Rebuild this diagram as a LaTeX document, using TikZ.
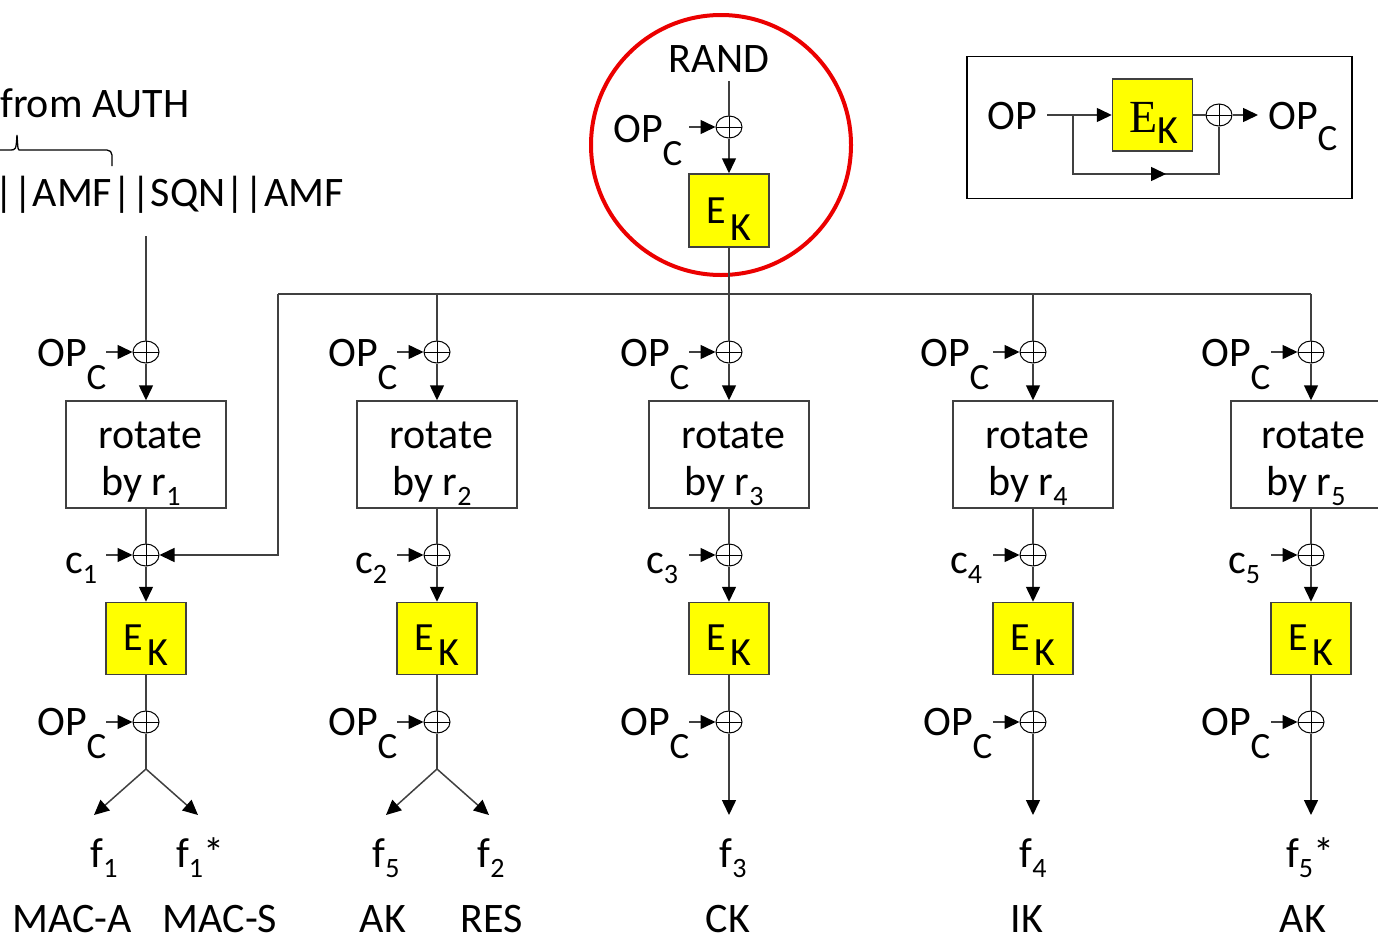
\documentclass[tikz,border=0pt]{standalone}
\usepackage{fontspec}
\setmainfont{Carlito}
\newfontfamily\serifE{Liberation Serif}
\usetikzlibrary{arrows.meta,positioning,shapes.geometric}
\definecolor{wiregray}{RGB}{64,64,64}
\definecolor{ekyellow}{RGB}{255,255,0}
\definecolor{focusred}{RGB}{235,0,0}
\newcommand{\opc}{OP\raisebox{-23pt}{\fontsize{37}{40}\selectfont C}}
\newcommand{\dsub}[1]{\raisebox{-10pt}{\fontsize{28}{30}\selectfont #1}}
\newcommand{\ek}{E\hspace{4pt}\raisebox{-15pt}{K}}

\begin{document}
\begin{tikzpicture}[x=1pt, y=-1pt,
    wire/.style={draw=wiregray, line width=1.5pt},
    arr/.style={wire, -{Triangle[length=15pt,width=14pt,color=black]}},
    xor/.style={ellipse, draw=black, line width=1pt,
                minimum width=26pt, minimum height=22pt, inner sep=0pt,
                path picture={\draw[line width=1pt]
                  (path picture bounding box.west) -- (path picture bounding box.east)
                  (path picture bounding box.north) -- (path picture bounding box.south);}},
    rotbox/.style={draw=wiregray, line width=1.5pt,
                   minimum width=160pt, minimum height=107pt, inner sep=0pt},
    ekbox/.style={draw=wiregray, fill=ekyellow, line width=1.5pt,
                  minimum width=80pt, minimum height=72pt, inner sep=0pt},
    lbl/.style={font=\fontsize{42}{47}\selectfont, inner sep=0pt},
    eklbl/.style={font=\fontsize{40}{44}\selectfont, inner sep=0pt}
  ]
    \useasboundingbox (0,0) rectangle (1378,937);
    \clip (0,0) rectangle (1378,937);

    % Input string from AUTH
    \node[lbl, anchor=base west] (auth) at (0,117) {from AUTH};
    \draw[black, line width=1.3pt]
      (112,166) [rounded corners=5pt] -- (112,150) -- (24,150) [sharp corners]
      .. controls (18,150) .. (17,135) .. controls (16,150) .. (10,150) -- (-20,150);
    \node[lbl, anchor=base east] (inp) at (344,206) {||AMF||SQN||AMF};
    \coordinate (inpout) at (146,236);

    % Top: RAND through E_K (highlighted)
    \node[circle, draw=focusred, line width=4pt, minimum size=260pt] (focus) at (721,145) {};
    \node[lbl, anchor=base] (rand) at (719,72) {RAND};
    \coordinate (randout) at (729,81);
    \node[xor] (x0) at (729,127) {};
    \node[lbl, anchor=base west] (op0) at (613,142) {\opc};
    \coordinate (in0) at (689,127);
    \node[ekbox, minimum height=73pt] (ek0) at (729,210.5) {};
    \node[inner sep=0pt, anchor=base, font=\fontsize{40}{44}\selectfont]
      at (729,223) {E\hspace{4pt}\raisebox{-17pt}{K}};
    \draw[wire] (randout) -- (x0);
    \draw[arr] (in0) -- (x0);
    \draw[arr] (x0) -- (ek0);

    % Legend: OP_C from OP
    \node[draw=black, line width=1.5pt, minimum width=385pt, minimum height=142pt] (legend) at (1159.5,127.5) {};
    \node[lbl, anchor=base west] (opI) at (987,129) {OP};
    \coordinate (opIout) at (1047,115);
    \coordinate (brI) at (1073,115);
    \node[ekbox] (ekI) at (1152.5,115) {};
    \node[inner sep=0pt, anchor=base west] at (1129,132)
      {\fontsize{46}{50}\selectfont\serifE E\raisebox{-11pt}{\fontsize{40}{42}\selectfont\rmfamily K}};
    \node[xor] (xI) at (1219,115) {};
    \coordinate (opIend) at (1258,115);
    \node[lbl, anchor=base west] (opcI) at (1268,129) {OP\raisebox{-21pt}{\fontsize{37}{40}\selectfont C}};
    \coordinate (loopI) at (1073,174);
    \coordinate (midIa) at (1140,174);
    \coordinate (midIb) at (1166,174);
    \draw[arr] (opIout) -- (ekI);
    \draw[wire] (ekI) -- (xI);
    \draw[arr] (xI) -- (opIend);
    \draw[wire] (brI) -- (loopI) -| (xI);
    \draw[arr] (midIa) -- (midIb);

    % Bus to the five columns
    \coordinate (busL) at (278,294);
    \coordinate (bus2) at (437,294);
    \coordinate (bus4) at (1033,294);
    \coordinate (busR) at (1311,294);
    \draw[wire] (busL) -- (busR);

    % Column 1: f1 and f1*
    \node[xor] (x1a) at (146,352) {};
    \node[lbl, anchor=base west] (op1a) at (37,366) {\opc};
    \coordinate (in1a) at (106,352);
    \node[rotbox] (rot1) at (146,454.5) {};
    \node[lbl, anchor=base] at (150,448) {rotate};
    \node[lbl, anchor=base] at (141,495) {by r\dsub{1}};
    \node[xor] (x1b) at (146,555) {};
    \node[lbl, anchor=base west] (c1) at (65,573) {c\dsub{1}};
    \coordinate (in1b) at (106,555);
    \node[ekbox] (ek1) at (146,638.5) {};
    \node[eklbl, anchor=base] at (146,650) {\ek};
    \node[xor] (x1c) at (146,722) {};
    \node[lbl, anchor=base west] (op1c) at (37,735) {\opc};
    \coordinate (in1c) at (106,722);
    \coordinate (sp1) at (146,769);
    \coordinate (o1a) at (94,815);
    \coordinate (o1b) at (198,815);
    \draw[wire] (inpout) -- (x1a);
    \draw[arr] (in1a) -- (x1a);
    \draw[arr] (x1a) -- (rot1);
    \draw[wire] (rot1) -- (x1b);
    \draw[arr] (in1b) -- (x1b);
    \draw[arr] (busL) |- (x1b);
    \draw[arr] (x1b) -- (ek1);
    \draw[wire] (ek1) -- (x1c);
    \draw[arr] (in1c) -- (x1c);
    \draw[wire] (x1c) -- (sp1);
    \draw[arr] (sp1) -- (o1a);
    \draw[arr] (sp1) -- (o1b);
    \node[lbl, anchor=base] at (104,867) {f\dsub{1}};
    \node[lbl, anchor=base] at (200,867) {f\dsub{1}*};
    \node[lbl, anchor=base] at (72,932) {MAC-A};
    \node[lbl, anchor=base] at (220,932) {MAC-S};

    % Column 2: f5 and f2
    \node[xor] (x2a) at (437,352) {};
    \node[lbl, anchor=base west] (op2a) at (328,366) {\opc};
    \coordinate (in2a) at (397,352);
    \node[rotbox] (rot2) at (437,454.5) {};
    \node[lbl, anchor=base] at (441,448) {rotate};
    \node[lbl, anchor=base] at (432,495) {by r\dsub{2}};
    \node[xor] (x2b) at (437,555) {};
    \node[lbl, anchor=base west] (c2) at (355,573) {c\dsub{2}};
    \coordinate (in2b) at (397,555);
    \node[ekbox] (ek2) at (437,638.5) {};
    \node[eklbl, anchor=base] at (437,650) {\ek};
    \node[xor] (x2c) at (437,722) {};
    \node[lbl, anchor=base west] (op2c) at (328,735) {\opc};
    \coordinate (in2c) at (397,722);
    \coordinate (sp2) at (437,769);
    \coordinate (o2a) at (386,815);
    \coordinate (o2b) at (489,815);
    \draw[wire] (bus2) -- (x2a);
    \draw[arr] (in2a) -- (x2a);
    \draw[arr] (x2a) -- (rot2);
    \draw[wire] (rot2) -- (x2b);
    \draw[arr] (in2b) -- (x2b);
    \draw[arr] (x2b) -- (ek2);
    \draw[wire] (ek2) -- (x2c);
    \draw[arr] (in2c) -- (x2c);
    \draw[wire] (x2c) -- (sp2);
    \draw[arr] (sp2) -- (o2a);
    \draw[arr] (sp2) -- (o2b);
    \node[lbl, anchor=base] at (386,867) {f\dsub{5}};
    \node[lbl, anchor=base] at (491,867) {f\dsub{2}};
    \node[lbl, anchor=base] at (383,932) {AK};
    \node[lbl, anchor=base] at (492,932) {RES};

    % Column 3: f3
    \node[xor] (x3a) at (729,352) {};
    \node[lbl, anchor=base west] (op3a) at (620,366) {\opc};
    \coordinate (in3a) at (689,352);
    \node[rotbox] (rot3) at (729,454.5) {};
    \node[lbl, anchor=base] at (733,448) {rotate};
    \node[lbl, anchor=base] at (724,495) {by r\dsub{3}};
    \node[xor] (x3b) at (729,555) {};
    \node[lbl, anchor=base west] (c3) at (646,573) {c\dsub{3}};
    \coordinate (in3b) at (689,555);
    \node[ekbox] (ek3) at (729,638.5) {};
    \node[eklbl, anchor=base] at (729,650) {\ek};
    \node[xor] (x3c) at (729,722) {};
    \node[lbl, anchor=base west] (op3c) at (620,735) {\opc};
    \coordinate (in3c) at (689,722);
    \coordinate (o3) at (729,815);
    \draw[wire] (ek0) -- (x3a);
    \draw[arr] (in3a) -- (x3a);
    \draw[arr] (x3a) -- (rot3);
    \draw[wire] (rot3) -- (x3b);
    \draw[arr] (in3b) -- (x3b);
    \draw[arr] (x3b) -- (ek3);
    \draw[wire] (ek3) -- (x3c);
    \draw[arr] (in3c) -- (x3c);
    \draw[arr] (x3c) -- (o3);
    \node[lbl, anchor=base] at (733,867) {f\dsub{3}};
    \node[lbl, anchor=base] at (728,932) {CK};

    % Column 4: f4
    \node[xor] (x4a) at (1033,352) {};
    \node[lbl, anchor=base west] (op4a) at (920,366) {\opc};
    \coordinate (in4a) at (993,352);
    \node[rotbox] (rot4) at (1033,454.5) {};
    \node[lbl, anchor=base] at (1037,448) {rotate};
    \node[lbl, anchor=base] at (1028,495) {by r\dsub{4}};
    \node[xor] (x4b) at (1033,555) {};
    \node[lbl, anchor=base west] (c4) at (950,573) {c\dsub{4}};
    \coordinate (in4b) at (993,555);
    \node[ekbox] (ek4) at (1033,638.5) {};
    \node[eklbl, anchor=base] at (1033,650) {\ek};
    \node[xor] (x4c) at (1033,722) {};
    \node[lbl, anchor=base west] (op4c) at (923,735) {\opc};
    \coordinate (in4c) at (993,722);
    \coordinate (o4) at (1033,815);
    \draw[wire] (bus4) -- (x4a);
    \draw[arr] (in4a) -- (x4a);
    \draw[arr] (x4a) -- (rot4);
    \draw[wire] (rot4) -- (x4b);
    \draw[arr] (in4b) -- (x4b);
    \draw[arr] (x4b) -- (ek4);
    \draw[wire] (ek4) -- (x4c);
    \draw[arr] (in4c) -- (x4c);
    \draw[arr] (x4c) -- (o4);
    \node[lbl, anchor=base] at (1033,867) {f\dsub{4}};
    \node[lbl, anchor=base] at (1027,932) {IK};

    % Column 5: f5*
    \node[xor] (x5a) at (1311,352) {};
    \node[lbl, anchor=base west] (op5a) at (1201,366) {\opc};
    \coordinate (in5a) at (1271,352);
    \node[rotbox] (rot5) at (1311,454.5) {};
    \node[lbl, anchor=base] at (1313,448) {rotate};
    \node[lbl, anchor=base] at (1306,495) {by r\dsub{5}};
    \node[xor] (x5b) at (1311,555) {};
    \node[lbl, anchor=base west] (c5) at (1228,573) {c\dsub{5}};
    \coordinate (in5b) at (1271,555);
    \node[ekbox] (ek5) at (1311,638.5) {};
    \node[eklbl, anchor=base] at (1311,650) {\ek};
    \node[xor] (x5c) at (1311,722) {};
    \node[lbl, anchor=base west] (op5c) at (1201,735) {\opc};
    \coordinate (in5c) at (1271,722);
    \coordinate (o5) at (1311,815);
    \draw[wire] (busR) -- (x5a);
    \draw[arr] (in5a) -- (x5a);
    \draw[arr] (x5a) -- (rot5);
    \draw[wire] (rot5) -- (x5b);
    \draw[arr] (in5b) -- (x5b);
    \draw[arr] (x5b) -- (ek5);
    \draw[wire] (ek5) -- (x5c);
    \draw[arr] (in5c) -- (x5c);
    \draw[arr] (x5c) -- (o5);
    \node[lbl, anchor=base] at (1310,867) {f\dsub{5}*};
    \node[lbl, anchor=base] at (1303,932) {AK};
  \end{tikzpicture}
\end{document}
